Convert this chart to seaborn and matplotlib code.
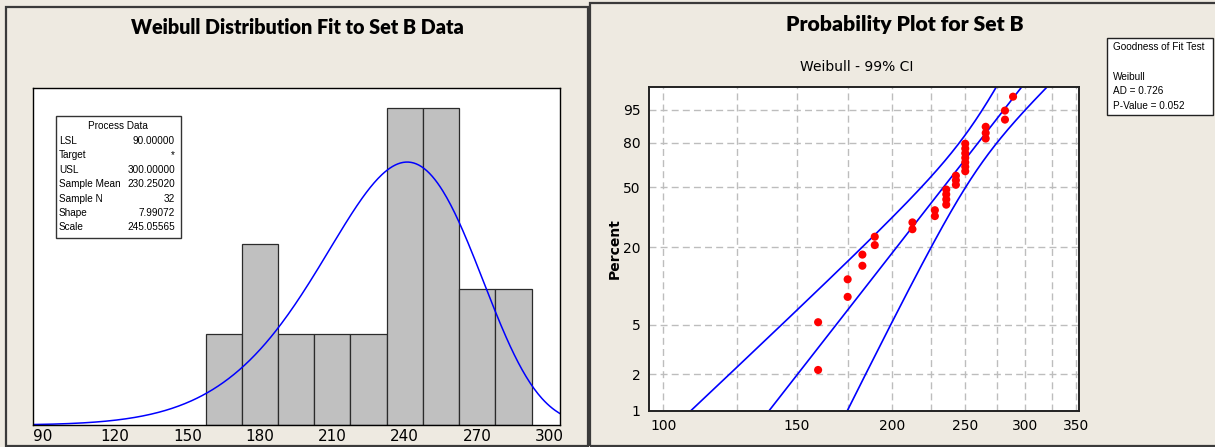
"""Weibull fit histogram and Weibull probability plot for Set B, Minitab style."""
import matplotlib

matplotlib.use("Agg")
import matplotlib.pyplot as plt  # noqa: E402
import numpy as np  # noqa: E402
import pandas as pd  # noqa: E402
import seaborn as sns  # noqa: E402
from matplotlib.patches import Rectangle  # noqa: E402
from matplotlib.ticker import FixedLocator, FixedFormatter, NullLocator  # noqa: E402

set_b = [160, 160, 175, 175, 183, 183, 190, 190, 213, 213, 228, 228,
         236, 236, 236, 236, 243, 243, 243,
         250, 250, 250, 250, 250, 250, 250,
         266, 266, 266, 282, 282, 289]
bin_edges = [157.5, 172.5, 187.5, 202.5, 217.5, 232.5, 247.5, 262.5, 277.5, 292.5]
shape = 7.99072
scale = 245.05565

process_labels = ["LSL", "Target", "USL", "Sample Mean", "Sample N", "Shape", "Scale"]
process_values = ["90.00000", "*", "300.00000", "230.25020", "32", "7.99072", "245.05565"]
gof_lines = ["Goodness of Fit Test", "", "Weibull", "AD = 0.726", "P-Value = 0.052"]

hist_ticks = [90, 120, 150, 180, 210, 240, 270, 300]
hist_minor = [105, 135, 165, 195, 225, 255, 285]
prob_xticks = [100, 150, 200, 250, 300, 350]
prob_xgrid = [100, 125, 150, 175, 200, 225, 250, 275, 300, 325, 350]
percent_ticks = [1, 2, 5, 20, 50, 80, 95]

W, H = 1215, 447
BG = "#EEEAE1"
BLUE = "#0000FF"

sns.set_style("white")
plt.rcParams["font.family"] = ["DejaVu Sans"]
plt.rcParams["text.color"] = "black"
plt.rcParams["axes.labelcolor"] = "black"

title_kw = dict(fontweight="heavy", family=["Lato", "DejaVu Sans"])
small_kw = dict(fontsize=7.2, family=["Liberation Sans", "DejaVu Sans"])


def px_rect(x0, y0, x1, y1):
    """Figure fraction rectangle from pixel corners measured from the top left."""
    return [x0 / W, 1 - y1 / H, (x1 - x0) / W, (y1 - y0) / H]


fig = plt.figure(figsize=(W / 100, H / 100), dpi=100)
fig.patch.set_facecolor(BG)

# panel frames
for x0, y0, x1, y1 in [(6, 7, 588, 446), (590, 3, 1217, 446)]:
    r = px_rect(x0, y0, x1, y1)
    fig.add_artist(Rectangle((r[0], r[1]), r[2], r[3], transform=fig.transFigure,
                             fill=False, edgecolor="#3a3a3a", lw=1.6))

# ---------------- left: histogram with Weibull density ----------------
ax1 = fig.add_axes(px_rect(33, 88, 560, 425))
ax1.set_facecolor("white")
df = pd.DataFrame({"value": set_b})
sns.histplot(data=df, x="value", bins=bin_edges, stat="count", color="#C0C0C0",
             edgecolor="#2b2b2b", linewidth=0.9, alpha=1.0, ax=ax1)
xs = np.linspace(86, 304.5, 400)
pdf = (shape / scale) * (xs / scale) ** (shape - 1) * np.exp(-(xs / scale) ** shape)
curve = pd.DataFrame({"x": xs, "y": pdf * len(set_b) * 15})
sns.lineplot(data=curve, x="x", y="y", color=BLUE, lw=1.1, ax=ax1)
ax1.set_xlim(86, 304.3)
ax1.set_ylim(0, 7.44)
ax1.set_xlabel("")
ax1.set_ylabel("")
ax1.yaxis.set_major_locator(NullLocator())
ax1.xaxis.set_major_locator(FixedLocator(hist_ticks))
ax1.xaxis.set_minor_locator(FixedLocator(hist_minor))
ax1.tick_params(axis="x", which="both", direction="in", length=5, width=1,
                labelsize=11, pad=3, colors="black")
for s in ax1.spines.values():
    s.set_color("black")
    s.set_linewidth(1.0)

fig.text(297 / W, 1 - 28 / H, "Weibull Distribution Fit to Set B Data",
         ha="center", va="center", fontsize=14.2, **title_kw)

# process data box
r = px_rect(55.5, 116, 181, 238)
fig.add_artist(Rectangle((r[0], r[1]), r[2], r[3], transform=fig.transFigure,
                         facecolor="white", edgecolor="#333333", lw=1.0))
fig.text(118 / W, 1 - 126 / H, "Process Data", ha="center", va="center", **small_kw)
for i, (lab, val) in enumerate(zip(process_labels, process_values)):
    y = 1 - (141 + i * 14.4) / H
    fig.text(59 / W, y, lab, ha="left", va="center", **small_kw)
    fig.text(175 / W, y, val, ha="right", va="center", **small_kw)


# ---------------- right: Weibull probability plot ----------------
def wb_fwd(p):
    p = np.clip(np.asarray(p, dtype=float), 1e-6, 100 - 1e-6)
    return np.log(-np.log(1 - p / 100))


def wb_inv(y):
    return 100 * (1 - np.exp(-np.exp(y)))


ax2 = fig.add_axes(px_rect(649, 87, 1079, 411))
ax2.set_facecolor("white")
ax2.set_xscale("log")
ax2.set_yscale("function", functions=(wb_fwd, wb_inv))

sorted_b = np.sort(np.asarray(set_b, dtype=float))
n = len(sorted_b)
ranks = np.arange(1, n + 1)
pts = pd.DataFrame({"x": sorted_b, "pct": 100 * (ranks - 0.3) / (n + 0.4)})

# fitted percentile line and 99% bands from the observed information
u, b = np.log(scale), 1 / shape
z = (np.log(sorted_b) - u) / b
ez = np.exp(z)
info = np.array([
    [ez.sum(), (ez - 1 + z * ez).sum()],
    [(ez - 1 + z * ez).sum(), -(1 + 2 * z - 2 * z * ez - z * z * ez).sum()],
]) / b ** 2
cov = np.linalg.inv(info)
pgrid = np.linspace(0.5, 99.5, 400)
yy = np.log(-np.log(1 - pgrid / 100))
lnx = u + b * yy
sd = np.sqrt(cov[0, 0] + yy ** 2 * cov[1, 1] + 2 * yy * cov[0, 1])
zc = 2.5758
bands = {"fit": np.exp(lnx), "lo": np.exp(lnx - zc * sd), "hi": np.exp(lnx + zc * sd)}
for key in ["lo", "fit", "hi"]:
    ax2.plot(bands[key], pgrid, color=BLUE, lw=1.2)

sns.scatterplot(data=pts, x="x", y="pct", color="#FF0000", s=34, edgecolor="none",
                ax=ax2, zorder=5)

ax2.set_xlim(95.8, 353)
ax2.set_ylim(1, 99)
ax2.xaxis.set_major_locator(FixedLocator(prob_xticks))
ax2.xaxis.set_major_formatter(FixedFormatter([str(t) for t in prob_xticks]))
ax2.xaxis.set_minor_locator(NullLocator())
ax2.yaxis.set_major_locator(FixedLocator(percent_ticks))
ax2.yaxis.set_major_formatter(FixedFormatter([str(t) for t in percent_ticks]))
ax2.yaxis.set_minor_locator(NullLocator())
ax2.tick_params(axis="both", which="major", direction="out", length=4, width=1,
                labelsize=10, pad=2, colors="black")
for gx in prob_xgrid:
    ax2.axvline(gx, color="#BDBDBD", lw=1.0, ls=(0, (5, 3)), zorder=0)
for gy in percent_ticks:
    ax2.axhline(gy, color="#BDBDBD", lw=1.0, ls=(0, (5, 3)), zorder=0)
ax2.set_xlabel("")
ax2.set_ylabel("Percent", fontsize=10, fontweight="bold", labelpad=1)
for s in ax2.spines.values():
    s.set_color("#222222")
    s.set_linewidth(1.4)

fig.text(905 / W, 1 - 25 / H, "Probability Plot for Set B", ha="center", va="center",
         fontsize=15.2, **title_kw)
fig.text(857 / W, 1 - 67 / H, "Weibull - 99% CI", ha="center", va="center", fontsize=10)

# goodness of fit box
r = px_rect(1107, 38, 1213, 115)
fig.add_artist(Rectangle((r[0], r[1]), r[2], r[3], transform=fig.transFigure,
                         facecolor="white", edgecolor="#222222", lw=1.0))
for i, line in enumerate(gof_lines):
    fig.text(1113 / W, 1 - (47 + i * 14.8) / H, line, ha="left", va="center", **small_kw)

fig.savefig("out.png", dpi=100, facecolor=fig.get_facecolor())
plt.close(fig)
